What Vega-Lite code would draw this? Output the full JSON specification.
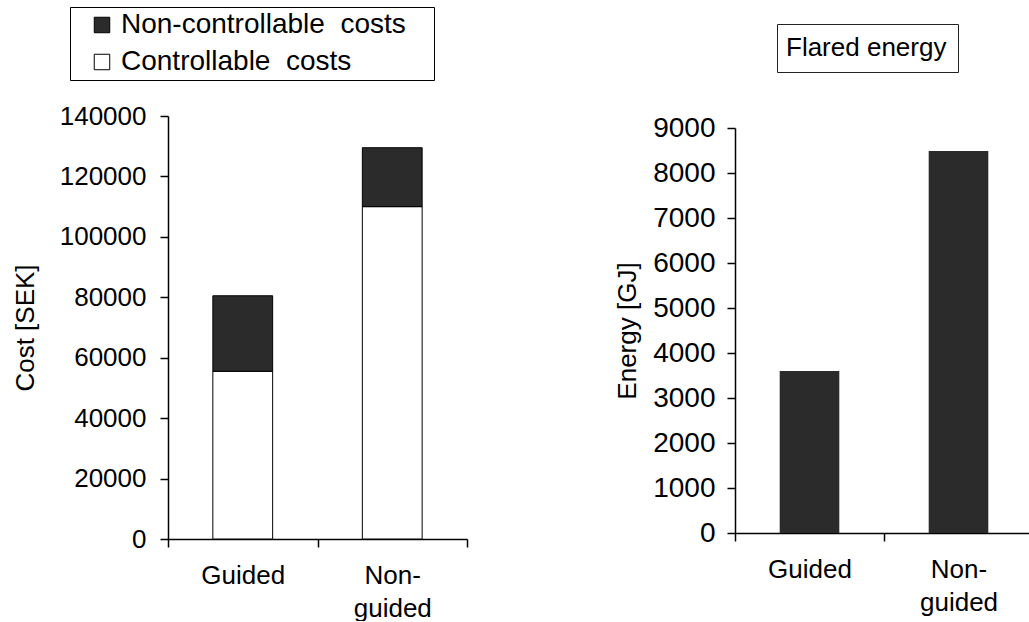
{
  "$schema": "https://vega.github.io/schema/vega-lite/v6.json",
  "background": "white",
  "padding": {"left": 12, "top": 6, "right": 0, "bottom": 0},
  "bounds": "flush",
  "spacing": 268,
  "config": {
    "font": "Liberation Sans",
    "view": {"stroke": null},
    "axis": {
      "domainColor": "black",
      "domainWidth": 1.5,
      "tickColor": "black",
      "tickWidth": 1.5,
      "tickSize": 8,
      "labelColor": "black",
      "labelFontSize": 26,
      "titleColor": "black",
      "titleFontSize": 26,
      "titleFontWeight": "normal",
      "grid": false
    },
    "legend": {
      "labelColor": "black",
      "labelFontSize": 28,
      "labelLimit": 1000
    }
  },
  "resolve": {"scale": {"color": "independent", "x": "independent", "y": "independent"}, "legend": {"color": "independent"}},
  "hconcat": [
    {
      "width": 299,
      "height": 423,
      "data": {
        "values": [
          {"scheme": "Guided", "type": "Controllable costs", "cost": 55500, "order": 1},
          {"scheme": "Guided", "type": "Non-controllable costs", "cost": 25000, "order": 2},
          {"scheme": "Non-guided", "type": "Controllable costs", "cost": 110000, "order": 1},
          {"scheme": "Non-guided", "type": "Non-controllable costs", "cost": 19500, "order": 2}
        ]
      },
      "mark": {"type": "bar", "width": {"band": 0.4}, "stroke": "black", "strokeWidth": 1},
      "encoding": {
        "x": {
          "field": "scheme",
          "type": "nominal",
          "sort": null,
          "scale": {"paddingInner": 0, "paddingOuter": 0},
          "axis": {
            "title": null,
            "labelAngle": 0,
            "tickBand": "extent",
            "labelPadding": 15,
            "labelLineHeight": 33,
            "labelExpr": "datum.value == 'Non-guided' ? ['Non-', 'guided'] : datum.label"
          }
        },
        "y": {
          "field": "cost",
          "type": "quantitative",
          "stack": "zero",
          "scale": {"domain": [0, 140000], "nice": false},
          "axis": {"title": "Cost [SEK]", "tickCount": 7, "labelPadding": 14, "titlePadding": 21, "format": "d"}
        },
        "color": {
          "field": "type",
          "type": "nominal",
          "scale": {"domain": ["Non-controllable costs", "Controllable costs"], "range": ["#2b2b2b", "white"]},
          "legend": {
            "title": null,
            "orient": "none",
            "legendX": -98,
            "legendY": -109,
            "strokeColor": "black",
            "padding": 4,
            "symbolType": "square",
            "symbolSize": 240,
            "symbolStrokeColor": "black",
            "symbolStrokeWidth": 1,
            "symbolOffset": 14,
            "rowPadding": 9,
            "labelOffset": 5,
            "labelExpr": "replace(datum.label, ' costs', '\u00a0 costs') + '\u00a0\u00a0\u00a0\u200b'"
          }
        },
        "order": {"field": "order"}
      }
    },
    {
      "width": 298,
      "height": 417,
      "data": {
        "values": [
          {"scheme": "Guided", "energy": 3600, "series": "Flared energy"},
          {"scheme": "Non-guided", "energy": 8490, "series": "Flared energy"}
        ]
      },
      "mark": {"type": "bar", "width": {"band": 0.4}},
      "encoding": {
        "x": {
          "field": "scheme",
          "type": "nominal",
          "sort": null,
          "scale": {"paddingInner": 0, "paddingOuter": 0},
          "axis": {
            "title": null,
            "labelAngle": 0,
            "tickBand": "extent",
            "labelPadding": 15,
            "labelLineHeight": 33,
            "labelExpr": "datum.value == 'Non-guided' ? ['Non-', 'guided'] : datum.label"
          }
        },
        "y": {
          "field": "energy",
          "type": "quantitative",
          "scale": {"domain": [0, 9000], "nice": false, "range": [417, 12]},
          "axis": {"title": "Energy [GJ]", "tickCount": 9, "labelPadding": 12, "titlePadding": 12, "labelFontSize": 28, "format": "d"}
        },
        "color": {
          "field": "series",
          "type": "nominal",
          "scale": {"range": ["#2b2b2b"]},
          "legend": {
            "title": null,
            "orient": "none",
            "legendX": 42,
            "legendY": -92,
            "strokeColor": "#222222",
            "padding": 11,
            "labelFontSize": 26,
            "symbolSize": 0,
            "symbolOpacity": 0,
            "symbolStrokeWidth": 0,
            "labelOffset": -28
          }
        }
      }
    }
  ]
}
